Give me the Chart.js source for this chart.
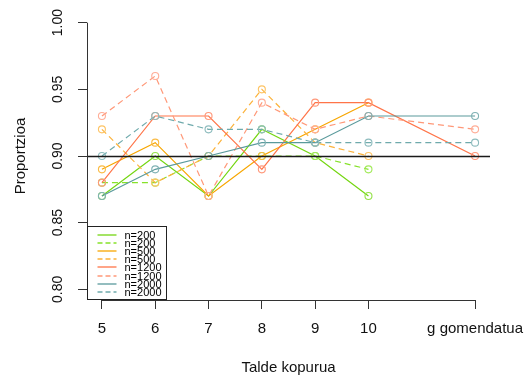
<!DOCTYPE html>
<html><head><meta charset="utf-8">
<script src="https://cdn.jsdelivr.net/npm/chart.js@4"></script>
<style>html,body{margin:0;padding:0;background:#fff}#wrap{width:526px;height:383px;position:relative}</style>
</head><body><div id="wrap"><canvas id="c" width="526" height="383"></canvas></div>
<script>
// ---- data ----
const groupPositions = [5, 6, 7, 8, 9, 10, 12];
const tickLabels = ['5', '6', '7', '8', '9', '10', 'g gomendatua'];
const n200a  = [0.87, 0.90, 0.87, 0.92, 0.90, 0.87, null];
const n200b  = [0.88, 0.88, 0.90, 0.90, 0.90, 0.89, null];
const n500a  = [0.89, 0.91, 0.87, 0.90, 0.92, 0.94, null];
const n500b  = [0.92, 0.88, 0.90, 0.95, 0.91, 0.90, null];
const n1200a = [0.88, 0.93, 0.93, 0.89, 0.94, 0.94, 0.90];
const n1200b = [0.93, 0.96, 0.87, 0.94, 0.92, 0.93, 0.92];
const n2000a = [0.87, 0.89, 0.90, 0.91, 0.91, 0.93, 0.93];
const n2000b = [0.90, 0.93, 0.92, 0.92, 0.91, 0.91, 0.91];
const seriesLabels = ['n=200', 'n=200', 'n=500', 'n=500', 'n=1200', 'n=1200', 'n=2000', 'n=2000'];
const yTicks = [0.80, 0.85, 0.90, 0.95, 1.00];
const refLine = 0.90;

// ---- styles ----
const FONT = "'Liberation Sans', Arial, sans-serif";
const seriesValues = [n200a, n200b, n500a, n500b, n1200a, n1200b, n2000a, n2000b];
const lineColors = ['#74D611', '#86E22A', '#F7A600', '#FCB23A', '#FF7448', '#FF9878', '#5A9A9C', '#6FAAAC'];
const pointColors = ['#94E248', '#A2EA5A', '#FABB45', '#FDC466', '#FF987A', '#FFAE98', '#80B2B4', '#8EBCBE'];
const DASH = [6, 4];

const datasets = seriesValues.map((vals, i) => ({
  label: seriesLabels[i],
  data: groupPositions.map((x, j) => ({ x: x, y: vals[j] })),
  borderColor: lineColors[i],
  borderWidth: 1.2,
  borderDash: i % 2 === 1 ? DASH : [],
  pointRadius: 3.5,
  pointHoverRadius: 3.5,
  pointBorderWidth: 1.1,
  pointBorderColor: pointColors[i],
  pointBackgroundColor: 'rgba(255,255,255,0)',
  fill: false,
  tension: 0,
  spanGaps: false,
  order: seriesValues.length - i
}));

const rAxes = {
  id: 'rAxes',
  afterDatasetsDraw(chart) {
    const { ctx, chartArea: ca, scales: { x, y } } = chart;
    ctx.save();
    const yr = Math.round(y.getPixelForValue(refLine)) + 0.5;
    ctx.strokeStyle = '#1a1a1a';
    ctx.lineWidth = 1.4;
    ctx.beginPath(); ctx.moveTo(ca.left, yr); ctx.lineTo(ca.right, yr); ctx.stroke();
    ctx.strokeStyle = '#333';
    ctx.lineWidth = 1;
    const xb = Math.round(ca.bottom) + 0.5;
    ctx.beginPath();
    ctx.moveTo(x.getPixelForValue(groupPositions[0]), xb);
    ctx.lineTo(x.getPixelForValue(groupPositions[groupPositions.length - 1]), xb);
    ctx.stroke();
    const yl = Math.round(ca.left) + 0.5;
    ctx.beginPath();
    ctx.moveTo(yl, y.getPixelForValue(yTicks[0]));
    ctx.lineTo(yl, y.getPixelForValue(yTicks[yTicks.length - 1]));
    ctx.stroke();
    ctx.restore();
  },
  afterDraw(chart) {
    const { ctx, chartArea: ca } = chart;
    ctx.save();
    const w = 79, h = 73;
    const left = Math.round(ca.left) + 0.5, bottom = Math.round(ca.bottom) - 0.5;
    const top = bottom - h;
    ctx.fillStyle = '#fff';
    ctx.fillRect(left, top, w, h);
    ctx.strokeStyle = '#222';
    ctx.lineWidth = 1;
    ctx.strokeRect(left, top, w, h);
    ctx.font = '11px ' + FONT;
    ctx.textBaseline = 'middle';
    ctx.textAlign = 'left';
    seriesLabels.forEach((lab, i) => {
      const yy = Math.round(top + 8 + i * 8.2);
      ctx.strokeStyle = lineColors[i];
      ctx.lineWidth = 1.3;
      ctx.setLineDash(i % 2 === 1 ? [5, 3] : []);
      ctx.beginPath();
      ctx.moveTo(left + 10, yy);
      ctx.lineTo(left + 29, yy);
      ctx.stroke();
      ctx.setLineDash([]);
      ctx.fillStyle = '#000';
      ctx.fillText(lab, left + 37, yy + 0.5);
    });
    ctx.restore();
  }
};

new Chart(document.getElementById('c'), {
  type: 'line',
  data: { datasets: datasets },
  plugins: [rAxes],
  options: {
    responsive: false,
    animation: false,
    events: [],
    layout: { padding: { top: 12, right: 36, left: 0, bottom: 0 } },
    plugins: { legend: { display: false }, tooltip: { enabled: false }, title: { display: false } },
    scales: {
      x: {
        type: 'linear',
        min: 4.72, max: 12.28,
        afterBuildTicks: s => { s.ticks = groupPositions.map(v => ({ value: v })); },
        afterFit: s => { s.height = 83; s.paddingLeft = 0; s.paddingRight = 0; },
        ticks: {
          autoSkip: false, maxRotation: 0, minRotation: 0,
          padding: 11,
          color: '#111',
          font: { family: FONT, size: 15 },
          callback: v => tickLabels[groupPositions.indexOf(v)]
        },
        grid: { display: true, drawOnChartArea: false, drawTicks: true, tickLength: 9, color: '#333', lineWidth: 1 },
        border: { display: false },
        title: { display: true, text: 'Talde kopurua', color: '#111', font: { family: FONT, size: 15 }, padding: { top: 0, bottom: 6 } }
      },
      y: {
        type: 'linear',
        min: 0.792, max: 1.008,
        afterBuildTicks: s => { s.ticks = yTicks.map(v => ({ value: v })); },
        afterFit: s => { s.width = 87; s.paddingTop = 0; s.paddingBottom = 0; },
        ticks: {
          autoSkip: false, minRotation: 90, maxRotation: 90,
          crossAlign: 'center',
          padding: 6,
          color: '#111',
          font: { family: FONT, size: 14 },
          callback: v => v.toFixed(2)
        },
        grid: { display: true, drawOnChartArea: false, drawTicks: true, tickLength: 9, color: '#333', lineWidth: 1 },
        border: { display: false },
        title: { display: true, text: 'Proportzioa', color: '#111', font: { family: FONT, size: 15 }, padding: { top: 12, bottom: 0 } }
      }
    }
  }
});
</script>
</body></html>
